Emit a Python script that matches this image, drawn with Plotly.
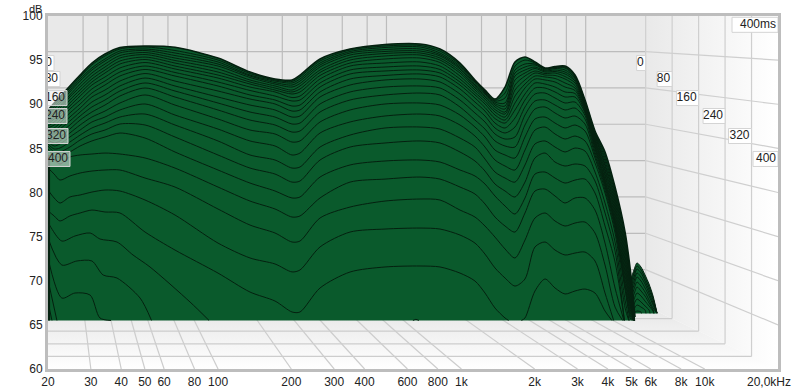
import numpy as np
import plotly.graph_objects as go

# ---------- data ----------
FREQ_TICKS = [20,30,40,50,60,80,100,200,300,400,600,800,1000,2000,3000,4000,5000,6000,8000,10000,20000]
FREQ_TEXT = ["20","30","40","50","60","80","100","200","300","400","600","800","1k","2k","3k","4k","5k","6k","8k","10k",""]
LAST_FREQ_TEXT = "20,0kHz"
DB_TICKS = [60,65,70,75,80,85,90,95,100]
TIME_TICKS = [0,80,160,240,320,400]
TIME_LABEL_DB = [94.67,92.86,90.7,88.67,86.4,83.8]

FREQS = [20,21.2,22.4,24.6,27.1,30.3,34.3,39.5,50.1,66.5,99.9,135.3,171.4,201.3,217.1,262.4,348.6,485.3,676.1,816.8,986.5,1137,1250,1374,1511,1660,1825,2006,2206,2425,2666,2930,3221,3540,3892,4279,4704,4934,5171]

# level of each slice (oldest to newest, top to bottom) at each frequency, dB on the front scale
L20 = [89.35,89.12,88.89,88.67,88.44,88.21,87.99,87.76,87.53,87.31,87.08,86.85,86.63,86.40,86.18,85.95,85.72,85.50,85.27,84.93,84.25,82.77,80.28,77.91]
L21 = [90.14,89.91,89.69,89.46,89.12,88.89,88.55,88.33,87.99,87.65,87.31,86.97,86.63,86.29,85.95,85.61,85.27,84.93,84.59,84.13,83.68,82.09,79.38,77.34]
L22 = [90.82,90.59,90.37,90.14,89.80,89.57,89.23,88.89,88.55,88.21,87.87,87.53,87.19,86.74,86.29,85.84,85.50,85.04,84.59,84.02,83.23,81.41,78.81,76.77]
L25 = [92.07,91.84,91.61,91.39,91.05,90.82,90.48,90.14,89.80,89.46,89.01,88.55,88.10,87.65,87.19,86.74,86.29,85.72,85.15,84.59,84.02,81.87,79.49,77.34]
L27 = [93.31,93.09,92.86,92.63,92.29,91.95,91.61,91.27,90.93,90.48,90.03,89.57,89.12,88.67,88.21,87.65,87.08,86.51,85.95,85.27,84.25,82.21,79.72,77.68]
L30 = [94.67,94.45,94.11,93.88,93.54,93.20,92.86,92.52,92.18,91.73,91.27,90.82,90.25,89.69,89.12,88.55,87.99,87.31,86.63,85.84,84.36,82.43,80.05,78.01]
L34 = [95.69,95.47,95.13,94.90,94.56,94.22,93.88,93.54,93.09,92.63,92.18,91.61,91.05,90.48,89.91,89.23,88.55,87.87,87.08,86.29,84.47,82.55,80.28,77.79]
L40 = [96.43,96.26,96.03,95.81,95.52,95.24,94.90,94.56,94.11,93.65,93.20,92.63,92.07,91.50,90.93,90.14,89.35,88.55,87.76,86.74,84.36,82.55,80.17,77.68]
L50 = [96.60,96.49,96.26,96.09,95.86,95.63,95.35,95.07,94.73,94.33,93.94,93.48,92.97,92.41,91.84,91.05,90.03,88.89,87.65,86.17,83.91,81.64,79.15,75.52]
L66 = [96.45,96.09,95.81,95.52,95.24,94.96,94.67,94.33,94.00,93.60,93.20,92.63,92.07,91.50,90.82,89.91,88.78,87.65,86.29,84.59,82.77,80.62,77.45,73.48]
L100 = [95.24,95.01,94.79,94.56,94.33,94.00,93.65,93.31,92.97,92.52,92.07,91.50,90.82,90.14,89.35,88.33,87.19,85.84,84.25,82.55,80.62,78.13,74.27,70.87]
L135 = [93.65,93.48,93.31,93.20,93.03,92.75,92.52,92.29,91.95,91.56,91.05,90.59,89.91,89.12,88.21,87.08,85.84,84.25,82.77,81.07,79.03,76.31,72.58,68.72]
L171 = [92.86,92.75,92.63,92.46,92.29,92.07,91.84,91.61,91.39,90.93,90.48,90.03,89.35,88.55,87.65,86.63,85.27,83.68,82.09,80.17,78.13,75.41,71.90,67.70]
L201 = [92.75,92.58,92.41,92.18,91.95,91.61,91.39,91.16,90.76,90.37,89.80,89.23,88.55,87.76,86.85,85.72,84.25,82.77,81.18,79.38,77.22,74.39,71.00,66.46]
L217 = [93.31,93.09,92.86,92.63,92.35,92.07,91.73,91.39,90.93,90.48,89.91,89.35,88.67,87.87,86.97,85.84,84.47,82.89,81.30,79.49,77.34,74.50,71.22,66.46]
L262 = [95.13,94.90,94.67,94.45,94.22,93.88,93.60,93.26,92.86,92.41,91.95,91.39,90.82,90.03,89.12,87.99,86.74,85.15,83.68,81.75,79.38,77.11,73.83,69.18]
L349 = [96.26,96.15,95.98,95.81,95.58,95.30,95.01,94.67,94.33,93.88,93.43,92.86,92.18,91.39,90.48,89.35,87.99,86.51,85.15,83.12,81.18,78.35,75.52,70.99]
L485 = [96.77,96.60,96.43,96.20,95.98,95.75,95.47,95.13,94.67,94.22,93.77,93.26,92.75,91.95,91.05,90.03,88.67,87.31,85.61,83.57,81.52,79.03,75.86,71.56]
L676 = [96.83,96.66,96.49,96.26,96.03,95.81,95.58,95.24,94.79,94.33,93.88,93.43,92.86,92.07,91.27,90.14,88.89,87.42,85.84,83.68,81.75,79.26,75.97,71.67]
L817 = [96.26,96.03,95.81,95.63,95.47,95.24,95.01,94.73,94.33,93.94,93.54,93.09,92.52,91.84,91.05,89.91,88.67,87.19,85.61,83.45,81.52,79.15,75.86,71.56]
L987 = [94.67,94.50,94.33,94.16,94.00,93.77,93.54,93.20,92.86,92.52,92.18,91.73,91.16,90.48,89.69,88.78,87.65,86.17,84.59,82.55,80.62,78.01,75.18,70.87]
L1137 = [92.75,92.63,92.52,92.35,92.18,92.01,91.84,91.61,91.33,91.05,90.71,90.25,89.69,89.01,88.21,87.42,86.40,85.15,83.57,81.87,79.83,77.22,74.27,69.97]
L1250 = [91.61,91.50,91.39,91.27,91.16,90.99,90.82,90.59,90.31,90.03,89.63,89.23,88.67,87.99,87.19,86.29,85.15,83.79,82.43,80.96,78.70,76.20,73.02,68.61]
L1374 = [90.59,90.48,90.37,90.25,90.08,89.91,89.69,89.40,89.12,88.78,88.38,87.87,87.31,86.63,85.84,84.81,83.68,82.32,80.96,79.60,77.22,74.95,71.45,66.91]
L1511 = [91.95,91.27,90.71,90.14,89.80,89.46,89.12,88.89,88.55,88.21,87.87,87.31,86.74,86.06,85.27,84.25,83.00,81.64,80.17,78.47,76.20,73.60,70.31,65.78]
L1660 = [94.79,94.33,93.88,93.54,93.20,92.75,92.18,91.61,90.93,90.14,89.35,88.44,87.42,86.29,85.15,83.91,82.55,81.18,79.49,77.56,75.52,72.58,69.40,65.00]
L1825 = [95.35,95.01,94.56,94.22,93.88,93.54,93.20,92.75,92.29,91.84,91.16,90.48,89.69,88.78,87.65,86.29,84.81,83.12,81.18,79.38,77.68,74.61,70.20,65.78]
L2006 = [94.79,94.67,94.56,94.45,94.22,94.05,93.77,93.54,93.20,92.86,92.41,91.84,91.16,90.37,89.46,88.33,87.08,85.50,83.91,82.09,80.17,77.11,73.83,68.84]
L2206 = [94.11,94.05,94.00,93.88,93.77,93.65,93.48,93.31,93.09,92.75,92.29,91.84,91.27,90.48,89.69,88.55,87.42,85.84,84.47,82.32,80.39,77.68,74.39,70.20]
L2425 = [94.28,94.22,94.16,94.05,93.88,93.71,93.54,93.26,92.92,92.52,91.95,91.39,90.71,89.91,89.01,87.87,86.63,85.15,83.45,81.64,79.60,76.77,73.48,69.18]
L2666 = [94.33,94.22,94.11,93.88,93.65,93.43,93.14,92.86,92.41,91.95,91.39,90.82,90.14,89.35,88.44,87.31,86.06,84.59,83.00,81.07,78.81,76.20,72.92,68.50]
L2930 = [93.31,93.20,93.09,92.97,92.80,92.63,92.41,92.12,91.84,91.56,91.22,90.82,90.25,89.57,88.67,87.65,86.40,85.04,83.23,81.41,79.38,76.54,73.14,68.84]
L3221 = [90.48,90.37,90.25,90.14,90.03,89.91,89.80,89.69,89.52,89.35,89.18,89.01,88.72,88.33,87.76,86.97,85.84,84.70,83.00,81.52,79.38,76.65,73.25,69.06]
L3540 = [86.97,86.85,86.74,86.63,86.51,86.40,86.17,85.95,85.84,85.61,85.38,85.15,84.93,84.59,84.25,83.91,83.34,82.32,81.30,79.94,78.01,75.41,72.24,68.61]
L3892 = [84.59,84.25,83.91,83.57,83.23,83.00,82.66,82.43,82.09,81.87,81.53,81.30,81.07,80.85,80.62,80.28,79.94,78.81,77.68,76.20,74.27,71.78,68.61,66.57]
L4279 = [80.62,80.28,79.94,79.60,79.26,78.92,78.58,78.24,77.90,77.56,77.22,76.88,76.66,76.43,76.20,75.86,75.41,74.39,73.37,72.12,69.18,67.02,65,65]
L4704 = [75.52,75.07,74.61,74.16,73.71,73.26,72.80,72.35,71.90,71.44,70.99,70.54,70.08,69.63,69.29,68.95,67.82,66.91,65,65,65,65,65,65]
L4934 = [71.44,70.99,70.54,70.20,69.74,69.40,68.95,68.61,68.16,67.82,67.48,67.14,66.80,66.46,66.12,65.78,65,65,65,65,65,65,65,65]
L5171 = [65.89,65,65,65,65,65,65,65,65,65,65,65,65,65,65,65,65,65,65,65,65,65,65,65]
LEVELS = [L20,L21,L22,L25,L27,L30,L34,L40,L50,L66,L100,L135,L171,L201,L217,L262,L349,L485,L676,L817,L987,L1137,L1250,L1374,L1511,L1660,L1825,L2006,L2206,L2425,L2666,L2930,L3221,L3540,L3892,L4279,L4704,L4934,L5171]

# the last slices only rise above the floor in short stretches
LATE_A_F = [20,20.4,22.8,25.8,29.8,32.7,38.4,44.7,52.5,76.7,92.6]
LATE_A_L = [76.66,76.20,74.50,75.07,75.41,74.73,74.39,72.92,71.56,67.59,65.40]
LATE_A2_F = [603,650,702]
LATE_A2_L = [65.30,65.62,65.30]
LATE_B_F = [20,22.8,26.3,30.3,33.7,38.4,47.8,53.5]
LATE_B_L = [74.84,71.78,72.24,72.24,70.65,70.31,68.04,65.40]
LATE_C_F = [20,22.8,25.8,29.8,32.7,37.7]
LATE_C_L = [72.58,68.04,68.61,68.38,65.78,65.40]
LATE_D_F = [20,21.8]
LATE_D_L = [70.08,65.40]
LATE_E_F = [20,20.8]
LATE_E_L = [67.59,65.40]

# small high-frequency lobe behind the main mass
LOBE_F = [4934,5122,5268,5472,5684,5904,6132,6365]
LOBE_0 = [69.85,71.25,72.02,71.55,70.65,69.63,68.27,66.33]
LOBE_1 = [69.28,70.88,71.67,71.22,70.31,69.29,68.04,66.33]
LOBE_2 = [68.95,70.42,71.33,70.88,69.97,68.95,67.82,66.33]
LOBE_3 = [68.61,69.97,70.88,70.42,69.63,68.61,67.48,66.33]
LOBE_4 = [68.27,69.52,70.42,69.97,69.18,68.27,67.25,66.33]
LOBE_5 = [67.82,69.06,69.85,69.40,68.72,67.82,66.91,66.33]
LOBE_6 = [67.36,68.50,69.29,68.84,68.27,67.48,66.68,65.0]
LOBE_7 = [66.91,67.93,68.61,68.27,67.70,67.14,66.57,65.0]
LOBE_8 = [66.46,67.36,67.93,67.59,67.14,66.68,65.0,65.0]
LOBE_9 = [65.0,66.80,67.25,67.02,66.68,65.0,65.0,65.0]
LOBE_10 = [65.0,66.35,66.57,66.46,65.0,65.0,65.0,65.0]
LOBES = [LOBE_0,LOBE_1,LOBE_2,LOBE_3,LOBE_4,LOBE_5,LOBE_6,LOBE_7,LOBE_8,LOBE_9,LOBE_10]

# ---------- styling ----------
GREEN = "#0a5a2c"
DARK = "#04200f"
GRID = "#bcbcbc"
FONT = "Liberation Sans"
FLOOR = 65.5
LOBE_FLOOR = 66.3
PX_X = 243.33   # px per decade of frequency, front plane
PX_Y = 8.825    # px per dB, front plane


def project(f, db, t):
    """Place a wall/floor point (frequency, level, time) on the front-plane axes."""
    u = t / 400.0
    dec = np.log10(f / 20.0) * (0.8187 + 0.1813 * u)
    return 20.0 * 10 ** dec, 60 + 7.14 * (1 - u) + (db - 60) * (0.8238 + 0.1762 * u)


def clip_to_floor(fs, ls, floor):
    """Cut a curve where it drops under the floor, keeping the crossing points."""
    xs, ys = [], []
    n = len(fs)
    for i in range(n):
        above = ls[i] >= floor
        if above:
            xs.append(fs[i]); ys.append(ls[i])
        if i + 1 < n and (ls[i + 1] >= floor) != above:
            a = (floor - ls[i]) / (ls[i + 1] - ls[i])
            xs.append(10 ** (np.log10(fs[i]) + a * (np.log10(fs[i + 1]) - np.log10(fs[i]))))
            ys.append(floor)
            if above:
                xs.append(None); ys.append(None)
    return xs, ys


def lines(groups, color, width=1):
    xs, ys = [], []
    for gx, gy in groups:
        xs += list(gx) + [None]
        ys += list(gy) + [None]
    return go.Scatter(x=xs, y=ys, mode="lines", line=dict(color=color, width=width), hoverinfo="skip")


traces = []

# walls and floor
bx, by = zip(*[project(f, d, 0) for f, d in [(20, 60), (20000, 60), (20000, 100), (20, 100)]])
traces.append(go.Scatter(x=bx, y=by, mode="lines", fill="toself", fillcolor="#e9e9e9", line=dict(width=0), hoverinfo="skip"))
rx, ry = zip(*[project(20000, d, t) for d, t in [(60, 0), (60, 400), (100, 400), (100, 0)]])
traces.append(go.Scatter(x=rx, y=ry, mode="lines", fill="toself", line=dict(width=0), hoverinfo="skip",
                         fillgradient=dict(type="horizontal", colorscale=[[0, "#e9e9e9"], [1, "#ffffff"]])))
fx, fy = zip(*[project(f, 60, t) for f, t in [(20, 0), (20000, 0), (20000, 400), (20, 400)]])
traces.append(go.Scatter(x=fx, y=fy, mode="lines", fill="toself", line=dict(width=0), hoverinfo="skip",
                         fillgradient=dict(type="vertical", colorscale=[[0, "#ffffff"], [1, "#e6e6e6"]])))

# grids
g = []
for f in FREQ_TICKS[1:-1]:
    g.append(tuple(zip(project(f, 60, 0), project(f, 100, 0))))
for d in DB_TICKS[1:-1]:
    g.append(tuple(zip(project(20, d, 0), project(20000, d, 0))))
traces.append(lines(g, GRID, 1.2))
g = []
for d in DB_TICKS[1:-1]:
    g.append(tuple(zip(project(20000, d, 0), project(20000, d, 400))))
for t in TIME_TICKS[:-1]:
    g.append(tuple(zip(project(20000, 60, t), project(20000, 100, t))))
traces.append(lines(g, "#cfcfcf", 1.2))
g = []
for f in FREQ_TICKS[1:-1]:
    g.append(tuple(zip(project(f, 60, 0), project(f, 60, 400))))
for t in TIME_TICKS[:-1]:
    g.append(tuple(zip(project(20, 60, t), project(20000, 60, t))))
traces.append(lines(g, "#cdcdcd", 1.2))

# lobe behind the main mass
traces.append(go.Scatter(x=[LOBE_F[0], LOBE_F[-1]], y=[LOBE_FLOOR, LOBE_FLOOR], mode="lines", line=dict(width=0), hoverinfo="skip"))
traces.append(go.Scatter(x=LOBE_F, y=LOBE_0, mode="lines", fill="tonexty", fillcolor=GREEN,
                         line=dict(color=DARK, width=1, shape="spline", smoothing=0.8), hoverinfo="skip"))
for row in LOBES[1:]:
    x, y = clip_to_floor(LOBE_F, row, LOBE_FLOOR)
    traces.append(go.Scatter(x=x, y=y, mode="lines", line=dict(color=DARK, width=1, shape="spline", smoothing=0.8), hoverinfo="skip"))

# main mass
table = np.array(LEVELS).T
traces.append(go.Scatter(x=[FREQS[0], FREQS[-1]], y=[FLOOR, FLOOR], mode="lines", line=dict(width=0), hoverinfo="skip"))
traces.append(go.Scatter(x=FREQS, y=table[0], mode="lines", fill="tonexty", fillcolor=GREEN,
                         line=dict(color=DARK, width=1.6, shape="spline", smoothing=0.8), hoverinfo="skip"))
for row in table[1:]:
    x, y = clip_to_floor(FREQS, [float(v) for v in row], FLOOR)
    traces.append(go.Scatter(x=x, y=y, mode="lines", line=dict(color=DARK, width=1, shape="spline", smoothing=0.8), hoverinfo="skip"))
for lf, ll in [(LATE_A_F, LATE_A_L), (LATE_A2_F, LATE_A2_L), (LATE_B_F, LATE_B_L), (LATE_C_F, LATE_C_L), (LATE_D_F, LATE_D_L), (LATE_E_F, LATE_E_L)]:
    x, y = clip_to_floor(lf, ll, FLOOR)
    traces.append(go.Scatter(x=x, y=y, mode="lines", line=dict(color=DARK, width=1, shape="spline", smoothing=0.8), hoverinfo="skip"))
traces.append(go.Scatter(x=[20.2, 20.2], y=[FLOOR, L20[20]], mode="lines", line=dict(color=DARK, width=2), hoverinfo="skip"))


def shift_f(f, dx):
    return f * 10 ** (dx / PX_X)


def label(text, f_right, db, width, fill):
    """A boxed time label whose right edge sits at f_right."""
    x0 = shift_f(f_right, -width)
    y0, y1 = db - 7.5 / PX_Y, db + 7.5 / PX_Y
    traces.append(go.Scatter(x=[x0, f_right, f_right, x0, x0], y=[y0, y0, y1, y1, y0], mode="lines", fill="toself",
                             fillcolor=fill, line=dict(color="#d4d4d4", width=1), hoverinfo="skip"))
    traces.append(go.Scatter(x=[shift_f(f_right, -2)], y=[db], mode="text", text=[text], textposition="middle left",
                             textfont=dict(family=FONT, size=12, color="#222222"), cliponaxis=True, hoverinfo="skip"))


WIDTHS = [9, 15, 22, 22, 23, 25]
for t, db, w in zip(TIME_TICKS, TIME_LABEL_DB, WIDTHS):
    right = project(20000, 60, t)[0]
    label(str(t), right, db, w, "#ffffff")
for t, db, w in zip(TIME_TICKS, TIME_LABEL_DB, WIDTHS):
    fill = "#ffffff" if t < 160 else "rgba(255,255,255,0.5)"
    label(str(t), shift_f(20, w - 3), db, w, fill)
label("400ms", 20000, 99.0, 46, "#ffffff")

fig = go.Figure(traces)
fig.update_layout(
    width=800, height=390, margin=dict(l=48, r=22, t=16, b=21, autoexpand=False),
    paper_bgcolor="#ffffff", plot_bgcolor="#ffffff", showlegend=False,
    font=dict(family=FONT, size=12, color="#222222"),
    xaxis=dict(type="log", range=[np.log10(20), np.log10(20000)], tickmode="array", tickvals=FREQ_TICKS, ticktext=FREQ_TEXT,
               automargin=False, ticklabeloverflow="allow",
               showgrid=False, zeroline=False, ticks="", showline=True, linecolor="#bdbdbd", linewidth=3, mirror=True, tickangle=0),
    yaxis=dict(range=[60, 100], tickmode="array", tickvals=DB_TICKS, showgrid=False, zeroline=False, ticks="",
               automargin=False, ticklabeloverflow="allow",
               showline=True, linecolor="#bdbdbd", linewidth=3, mirror=True),
    annotations=[
        dict(text="dB", xref="paper", yref="paper", x=0, y=1, xshift=-5, yshift=0, xanchor="right", yanchor="bottom",
             showarrow=False, borderpad=0, font=dict(family=FONT, size=11, color="#222222")),
        dict(text=LAST_FREQ_TEXT, xref="paper", yref="paper", x=1, y=0, xshift=15, yshift=-4, xanchor="right", yanchor="top",
             showarrow=False, font=dict(family=FONT, size=12, color="#222222")),
    ],
)
fig.write_html("out.html", config=dict(displayModeBar=False), post_script="document.body.style.margin='0';")
